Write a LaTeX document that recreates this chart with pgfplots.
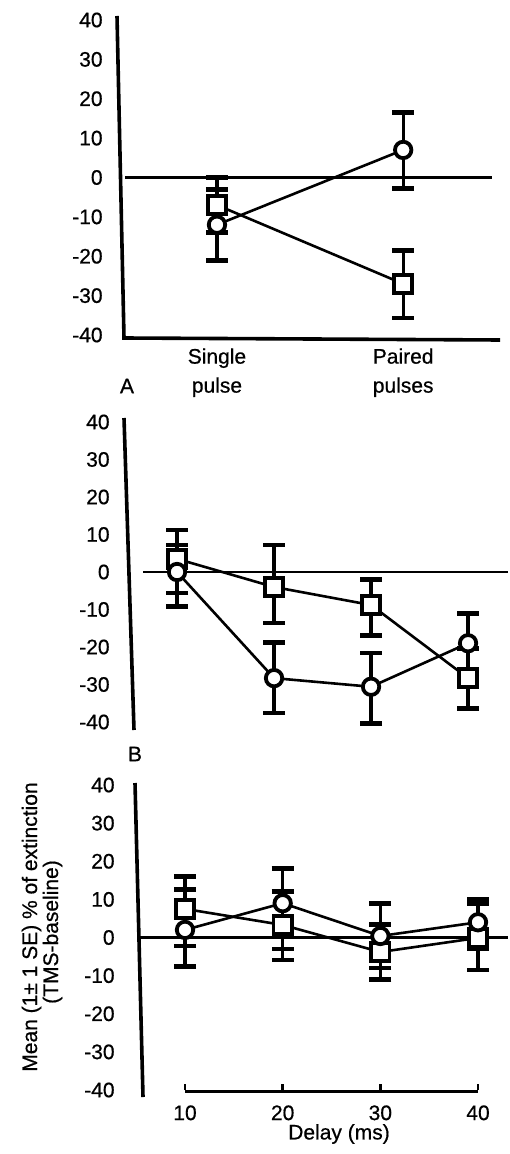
\documentclass[border=0pt]{standalone}
\usepackage{fontspec}
\setmainfont{Liberation Sans}[FakeBold=0.6]
\usepackage{pgfplots}
\usepackage{pgfplotstable}
\pgfplotsset{compat=1.18}

% panel A: 1 = single pulse, 2 = paired pulses
\pgfplotstableread{
x y ep em
1 -7 7 7
2 -27 8.5 8.7
}\sqA
\pgfplotstableread{
x y ep em
1 -12 9 9
2 7 9.5 9.7
}\ciA
% panel B
\pgfplotstableread{
x y ep em
10 3.5 7.7 9.1
20 -4 11.2 9.6
30 -8.8 6.7 8.1
40 -28.3 8 8
}\sqB
\pgfplotstableread{
x y ep em
10 0 7.2 9.3
20 -28.3 9.6 9.3
30 -30.6 9 9.7
40 -19 8 8
}\ciB
% panel C
\pgfplotstableread{
x y ep em
10 7.5 8.6 9.7
20 3.3 8.7 9.2
30 -3.8 7.3 7.2
40 -0.1 8.9 8.4
}\sqC
\pgfplotstableread{
x y ep em
10 2 10.7 9.5
20 9 9.2 12
30 0.4 8.6 8.4
40 4 6 7
}\ciC

\newcommand\txt{\fontsize{10.5}{14.5}\selectfont}

\pgfplotsset{
  panel/.style={
    scale only axis, anchor=south west, clip=false,
    ymin=-40, ymax=40, ytick={-40,-30,...,40},
    axis line style={draw=none},
    ytick style={draw=none}, xtick style={draw=none},
    xtick pos=bottom, ytick pos=left,
    tick label style={font=\txt},
    /pgf/number format/assume math mode=true,
    yticklabel style={inner sep=0pt},
    xticklabel style={inner sep=0pt},
  },
  sq/.style={black, line width=1.3pt, mark=square*, mark size=4.6pt,
    mark options={fill=white, line width=1.9pt, solid},
    error bars/.cd, y dir=both, y explicit,
    error bar style={line width=1.6pt},
    error mark options={rotate=90, line width=2.4pt, mark size=5.5pt}},
  ci/.style={black, line width=1.3pt, mark=*, mark size=4.1pt,
    mark options={fill=white, line width=1.9pt, solid},
    error bars/.cd, y dir=both, y explicit,
    error bar style={line width=1.6pt},
    error mark options={rotate=90, line width=2.4pt, mark size=5.5pt}},
}

\begin{document}
\begin{tikzpicture}
\begin{scope}[x=0.5pt, y=-0.5pt]
  \path[use as bounding box] (0,0) rectangle (508,1154);
  \coordinate (swA) at (122,335);
  \coordinate (swB) at (130,722);
  \coordinate (swC) at (139,1090);
  % hand-drawn axis lines
  \draw[line width=1.8pt] (117,16) -- (124,338) -- (500,340);
  \draw[line width=1.8pt] (124,418) -- (134,730);
  \draw[line width=1.8pt] (135,783) -- (143,1097);
  \node[font=\txt] at (127,386) {A};
  \node[font=\txt] at (135,754) {B};
  \node[font=\txt] at (339,1134) {Delay (ms)};
  \node[font=\txt, rotate=90, anchor=base] at (37,927) {Mean (1± 1 SE) \% of extinction};
  \node[font=\txt, rotate=90, anchor=base] at (58,932) {(TMS-baseline)};
\end{scope}

% panel A
\begin{axis}[panel, at={(swA)}, width=189pt, height=157.5pt,
  xmin=0.49, xmax=2.52,
  xtick={1,2}, xticklabels={Single\\pulse, Paired\\pulses},
  xticklabel style={align=center, yshift=-6.5pt},
  yticklabel style={xshift=-9.5pt}]
  \draw[line width=1.4pt] (axis cs:0.505,0) -- (axis cs:2.478,0);
  \addplot[sq] table[x=x, y=y, y error plus=ep, y error minus=em] {\sqA};
  \addplot[ci] table[x=x, y=y, y error plus=ep, y error minus=em] {\ciA};
\end{axis}

% panel B
\begin{axis}[panel, at={(swB)}, width=189pt, height=150pt,
  xmin=5.15, xmax=44.12, xtick=\empty,
  yticklabel style={xshift=-10pt}]
  \draw[line width=1.4pt] (axis cs:6.5,0) -- (axis cs:44.12,0);
  \addplot[sq] table[x=x, y=y, y error plus=ep, y error minus=em] {\sqB};
  \addplot[ci] table[x=x, y=y, y error plus=ep, y error minus=em] {\ciB};
\end{axis}

% panel C
\begin{axis}[panel, at={(swC)}, width=184.5pt, height=152.5pt,
  xmin=5.29, xmax=43.07, xtick={10,20,30,40},
  xtick style={draw=black, line width=1.3pt},
  tick align=inside, major tick length=3pt,
  xticklabel style={yshift=-7.5pt},
  yticklabel style={xshift=-12pt}]
  \draw[line width=1.4pt] (axis cs:5.39,0) -- (axis cs:43.07,0);
  \draw[line width=1.6pt] (axis cs:10,-40.3) -- (axis cs:40,-40.3);
  \addplot[sq] table[x=x, y=y, y error plus=ep, y error minus=em] {\sqC};
  \addplot[ci] table[x=x, y=y, y error plus=ep, y error minus=em] {\ciC};
\end{axis}
\end{tikzpicture}
\end{document}
